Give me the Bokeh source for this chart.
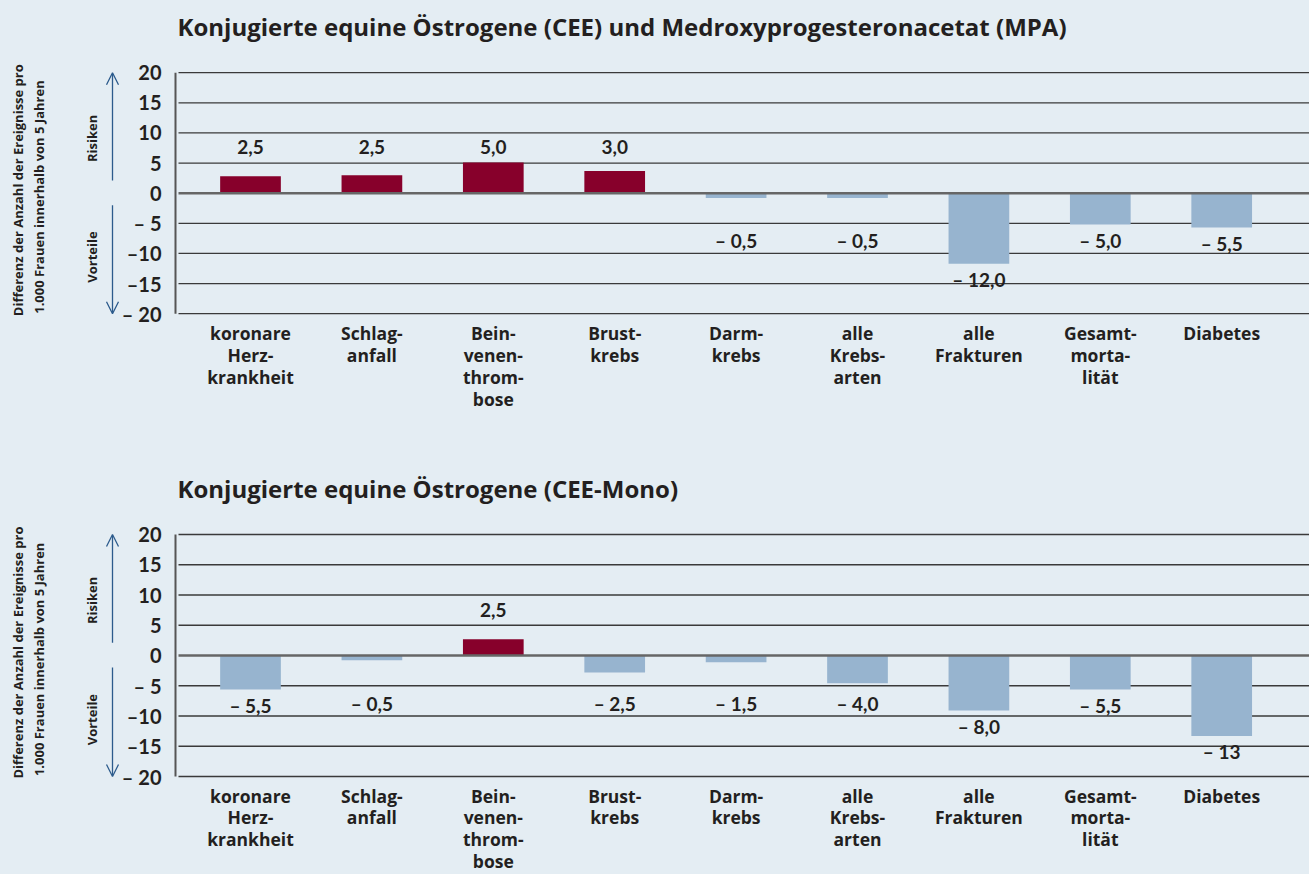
import math
from bokeh.plotting import figure
from bokeh.layouts import column
from bokeh.models import Arrow, OpenHead, ColumnDataSource, Range1d
from bokeh.core.properties import value
from bokeh.embed import file_html
from bokeh.resources import INLINE

# ---------------- data ----------------
categories = [
    "koronare\nHerz-\nkrankheit",
    "Schlag-\nanfall",
    "Bein-\nvenen-\nthrom-\nbose",
    "Brust-\nkrebs",
    "Darm-\nkrebs",
    "alle\nKrebs-\narten",
    "alle\nFrakturen",
    "Gesamt-\nmorta-\nlität",
    "Diabetes",
]

title_top = "Konjugierte equine Östrogene (CEE) und Medroxyprogesteronacetat (MPA)"
values_top = [2.8, 3.0, 5.1, 3.7, -0.8, -0.8, -11.7, -5.2, -5.7]
labels_top = ["2,5", "2,5", "5,0", "3,0", "– 0,5", "– 0,5", "– 12,0", "– 5,0", "– 5,5"]

title_bottom = "Konjugierte equine Östrogene (CEE-Mono)"
values_bottom = [-5.6, -0.8, 2.7, -2.8, -1.1, -4.6, -9.1, -5.6, -13.3]
labels_bottom = ["– 5,5", "– 0,5", "2,5", "– 2,5", "– 1,5", "– 4,0", "– 8,0", "– 5,5", "– 13"]

tick_values = [20, 15, 10, 5, 0, -5, -10, -15, -20]
tick_labels = ["20", "15", "10", "5", "0", "– 5", "–10", "–15", "– 20"]

yaxis_title = ["Differenz der Anzahl der Ereignisse pro", "1.000 Frauen innerhalb von 5 Jahren"]
risk_label = "Risiken"
benefit_label = "Vorteile"

# ---------------- style ----------------
BG = "#e4edf3"
RED = "#87002b"
BLUE = "#97b4cf"
TXT = "#231f20"
ARROW = "#2c5b8c"
FONT = "Open Sans"
NUMFONT = "Lato"

W = 1309
SPACING = 121.4          # px per category
CENTER0 = 250            # px of first category centre inside figure


def make_chart(title, values, labels, height, zero_px, px_per_unit):
    x0 = -CENTER0 / SPACING
    x1 = (W - CENTER0) / SPACING
    ytop = zero_px / px_per_unit
    ybot = (zero_px - height) / px_per_unit

    p = figure(width=W, height=height, output_backend="svg", toolbar_location=None,
               x_range=Range1d(x0, x1), y_range=Range1d(ybot, ytop),
               x_axis_location=None, y_axis_location=None,
               min_border=0, tools="")
    p.grid.visible = False
    p.outline_line_color = None
    p.background_fill_color = BG
    p.border_fill_color = BG

    def dx(px):  # screen px -> data x
        return (px - CENTER0) / SPACING

    def dy(px):  # screen px offset (down from zero) -> data units
        return -px / px_per_unit

    # grid lines
    gx0 = dx(178)
    nonzero = [t for t in tick_values if t != 0]
    p.segment(x0=[gx0] * len(nonzero), x1=[x1] * len(nonzero), y0=nonzero, y1=nonzero,
              line_color="#3a3a3a", line_width=1.3)

    # bars
    xs = list(range(len(values)))
    colors = [RED if v > 0 else BLUE for v in values]
    src = ColumnDataSource(dict(x=xs, top=values, bottom=[0] * len(values), color=colors))
    p.vbar(x="x", top="top", bottom="bottom", width=0.5, fill_color="color",
           line_color=None, source=src)

    # zero line
    p.segment(x0=[gx0], x1=[x1], y0=[0], y1=[0], line_color="#666666", line_width=2.5)

    # y axis line
    ax = dx(175)
    p.segment(x0=[ax], x1=[ax], y0=[min(tick_values)], y1=[max(tick_values)],
              line_color="#555555", line_width=2)

    # tick labels
    p.text(x=[dx(161)] * len(tick_values), y=tick_values, text=tick_labels,
           text_font=value(NUMFONT), text_font_style="bold", text_font_size="20px",
           text_color=TXT, text_align="right", text_baseline="middle")

    # value labels
    ly = []
    for v in values:
        if v > 0:
            ly.append(7.6)
        else:
            ly.append(min(-7.9, v - 2.6))
    p.text(x=xs, y=ly, text=labels, text_font=value(NUMFONT), text_font_style="bold",
           text_font_size="19px", text_color=TXT, text_align="center",
           text_baseline="middle")

    # category labels (line by line)
    cx, cy, ct = [], [], []
    first_line = dy(140)
    step = 21.8 / px_per_unit
    for i, c in enumerate(categories):
        for k, line in enumerate(c.split("\n")):
            cx.append(i)
            cy.append(first_line - k * step)
            ct.append(line)
    p.text(x=cx, y=cy, text=ct, text_font=value(FONT), text_font_style="bold",
           text_font_size="17.5px", text_color=TXT, text_align="center",
           text_baseline="middle")

    # title
    p.text(x=[dx(177)], y=[167 / px_per_unit], text=[title],
           text_font=value(FONT), text_font_style="bold", text_font_size="24px",
           text_color=TXT, text_align="left", text_baseline="middle")

    # rotated y-axis title
    ystart = dy(123)
    p.text(x=[dx(17), dx(38)], y=[ystart, ystart + 0.4], text=yaxis_title,
           angle=math.pi / 2, text_font=value(FONT), text_font_style="bold",
           text_font_size="13px", text_color=TXT, text_align="left",
           text_baseline="middle")

    # Risiken / Vorteile
    p.text(x=[dx(91), dx(91)], y=[9.1, -10.6], text=[risk_label, benefit_label],
           angle=math.pi / 2, text_font=value(FONT), text_font_style="bold",
           text_font_size="13px", text_color=TXT, text_align="center",
           text_baseline="middle")

    # arrows
    axx = dx(112)
    p.add_layout(Arrow(end=OpenHead(size=12, line_color=ARROW, line_width=1.3),
                       x_start=axx, y_start=2.1, x_end=axx, y_end=20,
                       line_color=ARROW, line_width=1.3))
    p.add_layout(Arrow(end=OpenHead(size=12, line_color=ARROW, line_width=1.3),
                       x_start=axx, y_start=-2.0, x_end=axx, y_end=-20,
                       line_color=ARROW, line_width=1.3))
    return p


p1 = make_chart(title_top, values_top, labels_top, 437, 192.7, 6.025)
p2 = make_chart(title_bottom, values_bottom, labels_bottom, 437, 218, 6.05)

p = column(p1, p2, spacing=0, styles={"background-color": BG})
open("out.html", "w").write(file_html(p, INLINE))
